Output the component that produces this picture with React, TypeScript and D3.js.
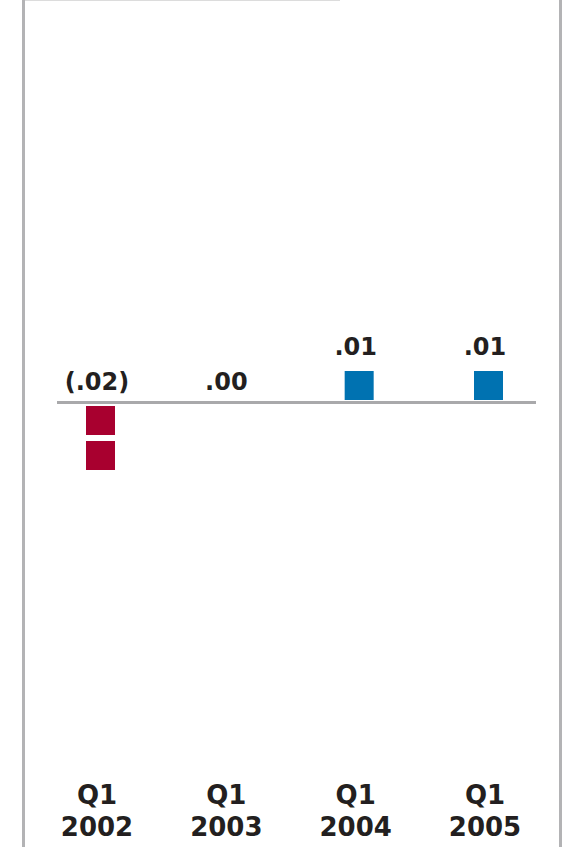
import { useEffect, useRef } from 'react'
import * as d3 from 'd3'

// quarterly EPS change, one square = $.01
const quarters = ['Q1 2002', 'Q1 2003', 'Q1 2004', 'Q1 2005']
const values = [-0.02, 0.0, 0.01, 0.01]
const valueLabels = ['(.02)', '.00', '.01', '.01']
const unit = 0.01

export default function App() {
    const svgRef = useRef<SVGSVGElement>(null)

    useEffect(() => {
        if (!svgRef.current) return
        const width = 564
        const height = 847
        const svg = d3.select(svgRef.current)
        svg.attr('width', width).attr('height', height)
        svg.selectAll('*').remove()

        const font = "'DejaVu Sans', sans-serif"
        const ink = '#231f20'

        // frame
        svg.append('line')
            .attr('x1', 23.5).attr('x2', 23.5).attr('y1', 0).attr('y2', height)
            .attr('stroke', '#b3b3b5').attr('stroke-width', 3)
        svg.append('line')
            .attr('x1', 560.5).attr('x2', 560.5).attr('y1', 0).attr('y2', height)
            .attr('stroke', '#b3b3b5').attr('stroke-width', 3)
        svg.append('line')
            .attr('x1', 25).attr('x2', 340).attr('y1', 0.5).attr('y2', 0.5)
            .attr('stroke', '#dcdcdc').attr('stroke-width', 1)

        const x = d3.scalePoint<string>()
            .domain(quarters)
            .range([97, 485])

        const y = d3.scaleLinear()
            .domain([-0.02, 0.02])
            .range([402.5 + 70, 402.5 - 70])

        const cell = y(0) - y(unit)
        const size = cell - 6

        // squares, one per cent
        const squares: { q: string; upper: number; pos: boolean }[] = []
        quarters.forEach((q, i) => {
            const n = Math.round(Math.abs(values[i]) / unit)
            for (let k = 0; k < n; k++) {
                if (values[i] > 0) squares.push({ q, upper: (k + 1) * unit, pos: true })
                else squares.push({ q, upper: -k * unit, pos: false })
            }
        })

        svg.selectAll('.sq')
            .data(squares)
            .enter()
            .append('rect')
            .attr('class', 'sq')
            .attr('x', d => (x(d.q) || 0) + 3.5 - size / 2)
            .attr('y', d => y(d.upper) + 3.5)
            .attr('width', size)
            .attr('height', size)
            .attr('fill', d => (d.pos ? '#0072b1' : '#a8002f'))

        // baseline
        svg.append('line')
            .attr('x1', 57).attr('x2', 536)
            .attr('y1', y(0)).attr('y2', y(0))
            .attr('stroke', '#a9a9ab').attr('stroke-width', 3)

        // value labels
        svg.selectAll('.val')
            .data(quarters)
            .enter()
            .append('text')
            .attr('class', 'val')
            .attr('x', (d) => x(d) || 0)
            .attr('y', (_d, i) => values[i] > 0 ? y(values[i]) + 3.5 - 16 : y(0) - 13)
            .attr('text-anchor', 'middle')
            .attr('font-family', font)
            .attr('font-weight', 'bold')
            .attr('font-size', '24px')
            .attr('fill', ink)
            .text((_d, i) => valueLabels[i])

        // category labels
        const cats = svg.selectAll('.cat')
            .data(quarters)
            .enter()
            .append('text')
            .attr('class', 'cat')
            .attr('text-anchor', 'middle')
            .attr('font-family', font)
            .attr('font-weight', 'bold')
            .attr('font-size', '26px')
            .attr('fill', ink)
        cats.append('tspan')
            .attr('x', d => x(d) || 0)
            .attr('y', 804)
            .text(d => d.split(' ')[0])
        cats.append('tspan')
            .attr('x', d => x(d) || 0)
            .attr('y', 836)
            .text(d => d.split(' ')[1])
    }, [])

    return <svg ref={svgRef} style={{ position: 'absolute', top: 0, left: 0 }} />
}
